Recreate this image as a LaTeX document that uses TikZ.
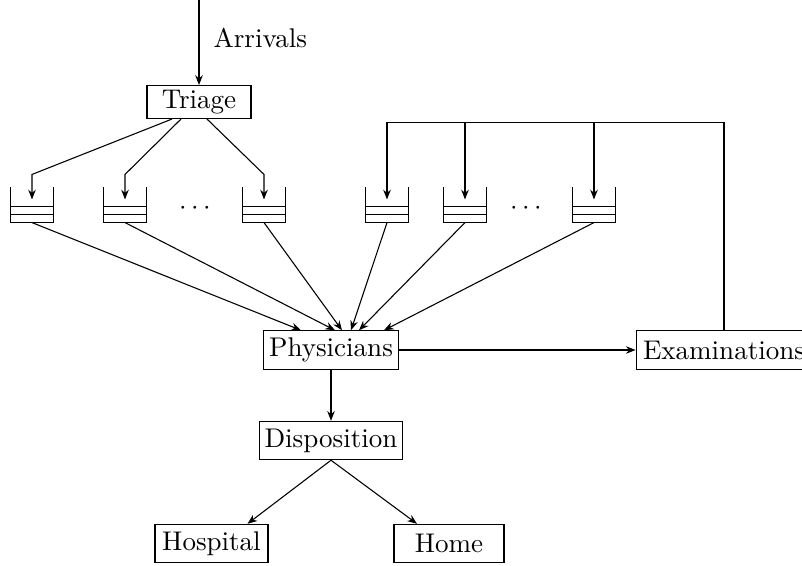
\documentclass[tikz,border=0pt]{standalone}
\usepackage{tikz}
\usetikzlibrary{arrows.meta,calc}

\tikzset{box/.style={draw,inner xsep=2pt,inner ysep=0pt,minimum height=14.2pt},
queue/.style={inner sep=0pt,minimum width=15.5pt,minimum height=12.6pt}}

\begin{document}
\begin{tikzpicture}[>={Stealth[length=3.6pt,width=2.8pt]},x=0.37pt,y=-0.37pt]
\useasboundingbox (0,0) rectangle (802,565);
\node[box,minimum width=38.5pt,minimum height=12.2pt] (triage) at (199,102) {Triage};
\node[box] (phys) at (331,350) {Physicians};
\node[box,minimum width=65pt] (exam) at (724,350) {Examinations};
\node[box] (disp) at (331,440.5) {Disposition};
\node[box,minimum width=41.8pt] (hosp) at (211.5,543.5) {Hospital};
\node[box,minimum width=40.7pt] (home) at (449,543.5) {Home};
\coordinate (in) at (199,0);
\node[right] (arr) at (204,38) {Arrivals};
\draw[->] (in) -- (triage.north);
% queues
\foreach \n/\x in {1/32,2/125,3/264,4/387,5/465,6/594}{
\node[queue] (q\n) at (\x,205) {};
\draw (q\n.north west) -- (q\n.south west) -- (q\n.south east) -- (q\n.north east);
\draw ($(q\n.south west)+(0,-8)$) -- ($(q\n.south east)+(0,-8)$);
\draw ($(q\n.south west)+(0,-16)$) -- ($(q\n.south east)+(0,-16)$);
}
\node (dotsL) at (195,208) {$\cdots$};
\node (dotsR) at (526,208) {$\cdots$};
% triage to queues
\foreach \n/\s in {1/-27,2/-18,3/8}
\draw[->] ($(triage.south)+(\s,0)$) -- ($(q\n.north)+(0,-13)$) -- ($(q\n.north)+(0,12)$);
% examinations back to queues
\draw (exam.north) |- ($(q4.north)+(0,-65)$);
\foreach \n in {4,5,6}
\draw[->] ($(q\n.north)+(0,-65)$) -- ($(q\n.north)+(0,12)$);
% queues to physicians
\foreach \n/\s in {1/-30,2/4,3/11,4/20,5/28,6/53}
\draw[->] (q\n.south) -- ($(phys.north)+(\s,0)$);
\draw[->] (phys) -- (exam);
\draw[->] (phys) -- (disp);
\draw[->] (disp.south) -- ($(hosp.north)+(36,0)$);
\draw[->] (disp.south) -- ($(home.north)+(-32,0)$);
\end{tikzpicture}
\end{document}
